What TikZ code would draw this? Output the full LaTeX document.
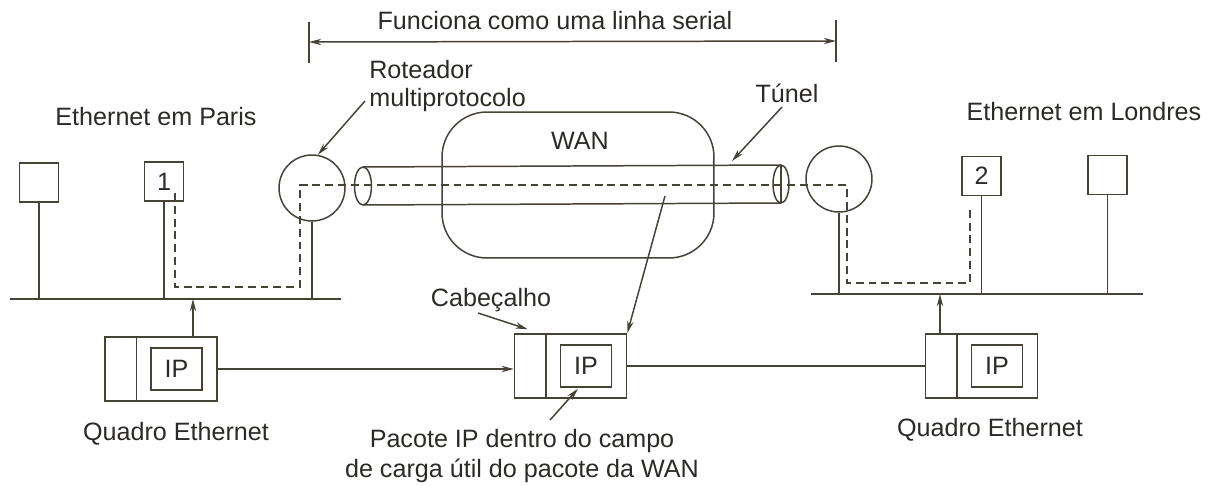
\documentclass[tikz,border=0pt]{standalone}
\usepackage{fontspec}
\setmainfont{Liberation Sans}
\usetikzlibrary{positioning,arrows.meta,calc}
\definecolor{ink}{RGB}{70,66,54}
\definecolor{txt}{RGB}{44,42,38}

\begin{document}
\begin{tikzpicture}[
    x=0.02cm, y=-0.02cm,
    line/.style={draw=ink, line width=0.85pt},
    bus/.style={draw=ink, line width=1.6pt},
    stem/.style={draw=ink, line width=1.1pt},
    tip/.style={-{Stealth[length=7pt,width=3.6pt]}},
    tips/.style={{Stealth[length=7pt,width=3.6pt]}-{Stealth[length=7pt,width=3.6pt]}},
    lbl/.style={text=txt, font=\fontsize{14.3}{15.5}\selectfont, inner sep=0pt},
    host/.style={draw=ink, line width=0.85pt, minimum size=0.78cm, inner sep=0pt},
    router/.style={circle, draw=ink, line width=0.85pt, minimum size=1.32cm, inner sep=0pt},
    route/.style={draw=ink, line width=1.2pt, dash pattern=on 4.5pt off 2.8pt},
    frame/.style={draw=ink, line width=0.85pt, minimum width=2.24cm, minimum height=1.28cm, inner sep=0pt},
    ipbox/.style={draw=ink, line width=0.85pt, minimum width=1.02cm, minimum height=0.84cm, inner sep=0pt}
]
\useasboundingbox (0,0) rectangle (1211,486);

% Serial line span
\node[lbl] (serial) at (555,21) {Funciona como uma linha serial};
\coordinate (sL) at (309,42);
\coordinate (sR) at (836,41);
\draw[line] ($(sL)+(0,-20)$) -- ($(sL)+(0,21)$);
\draw[line] ($(sR)+(0,-21)$) -- ($(sR)+(0,21)$);
\draw[line, tips] (sL) -- (sR);

% Labels
\node[lbl] (paris) at (156,117) {Ethernet em Paris};
\node[lbl] (londres) at (1084,112) {Ethernet em Londres};
\node[lbl, align=left, anchor=west, font=\fontsize{14.3}{15.8}\selectfont] (rot) at (369,86) {Roteador\\multiprotocolo};
\node[lbl] (tun) at (787,93) {Túnel};

% WAN cloud
\node[draw=ink, line width=0.85pt, rounded corners=0.9cm, minimum width=5.44cm, minimum height=2.92cm] (wan) at (578,185) {};
\node[lbl] (wanl) at (580,141) {WAN};

% Hosts
\node[host] (pa) at (39,182.5) {};
\node[host, lbl] (h1) at (164,181.5) {1};
\node[host, lbl] (h2) at (981.5,176) {2};
\node[host] (lo) at (1107.5,175) {};

% Routers
\node[router] (rp) at (312,188) {};
\node[router] (rl) at (839,179) {};

% Buses
\coordinate (bpL) at (10,299);
\coordinate (bpR) at (341,299);
\coordinate (blL) at (811,294);
\coordinate (blR) at (1143,294);
\draw[bus] (bpL) -- (bpR);
\draw[bus] (blL) -- (blR);
\draw[stem] (pa.south) -- (pa.south |- bpL);
\draw[stem] (h1.south) -- (h1.south |- bpL);
\draw[stem] (rp.south) -- (rp.south |- bpL);
\draw[stem] (rl.south) -- (rl.south |- blL);
\draw[stem] (h2.south) -- (h2.south |- blL);
\draw[stem] (lo.south) -- (lo.south |- blL);

% Tunnel
\coordinate (tl) at (363,186);
\coordinate (tr) at (781,184);
\draw[line] ($(tl)+(0,-19)$) -- ($(tr)+(0,-19)$);
\draw[line] ($(tl)+(0,19)$) -- ($(tr)+(0,19)$);
\draw[line] (tl) ellipse [x radius=0.17cm, y radius=0.38cm];
\draw[line, fill=white] (tr) ellipse [x radius=0.16cm, y radius=0.38cm];
\draw[line] ($(tr)+(0,-19)$) -- ($(tr)+(0,19)$);

% Route of the packet
\coordinate (d1) at (175,193);
\coordinate (d2) at (970,208);
\draw[route] (d1) |- (300,287) |- (847,185) |- (970,283) -- (d2);

% Frames
\foreach \n/\x/\y in {fl/161/369, fm/570.5/366, fr/981.5/366} {
    \node[frame] (\n) at (\x,\y) {};
    \draw[line] ($(\n.north west)+(32,0)$) -- ($(\n.south west)+(32,0)$);
    \node[ipbox, lbl] (\n-ip) at ($(\n.center)+(15.5,0)$) {IP};
}
\draw[line, tip] (fl.east) -- (fl.east -| fm.west);
\draw[line] (fm.east) -- (fm.east -| fr.west);
\coordinate (ua) at (193,299);
\coordinate (ub) at (940,294);
\draw[line, tip] (fl.north -| ua) -- (ua);
\draw[line, tip] (fr.north -| ub) -- (ub);

\node[lbl] (qfl) at (176,434) {Quadro Ethernet};
\node[lbl] (qfr) at (990,430) {Quadro Ethernet};
\node[lbl] (cab) at (491,300) {Cabeçalho};
\node[lbl, align=center, font=\fontsize{14.3}{17}\selectfont] (pac) at (522,456) {Pacote IP dentro do campo\\de carga útil do pacote da WAN};

% Pointers
\draw[line, tip] (365,101) -- (rp.80);
\draw[line, tip] (782,107) -- (732,161);
\coordinate (tt) at (665,196);
\draw[line, tip] (tt) -- (fm.north east);
\draw[line, tip] (478,313) -- ($(fm.north west)+(14,-4)$);
\draw[line, tip] (550,420) -- ($(fm-ip.south)+(-8,1)$);
\end{tikzpicture}
\end{document}
